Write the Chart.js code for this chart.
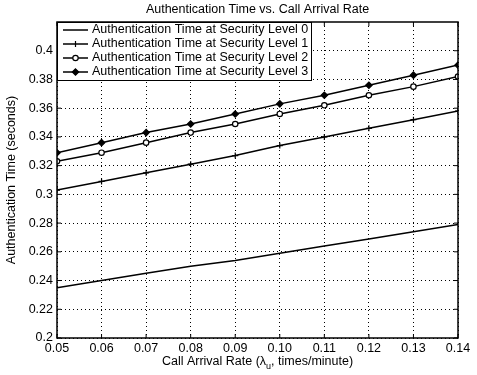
<!DOCTYPE html>
<html>
<head>
<meta charset="utf-8">
<script src="https://cdn.jsdelivr.net/npm/chart.js@4/dist/chart.umd.min.js"></script>
<style>
  html, body { margin: 0; padding: 0; background: #fff; }
  #wrap { width: 477px; height: 375px; position: relative; }
</style>
</head>
<body>
<div id="wrap"><canvas id="chart" width="477" height="375"></canvas></div>
<script>
// ---- data ----
const arrivalRates = [0.05, 0.06, 0.07, 0.08, 0.09, 0.10, 0.11, 0.12, 0.13, 0.14];
const level0 = [0.235, 0.240, 0.245, 0.250, 0.254, 0.259, 0.264, 0.269, 0.274, 0.279];
const level1 = [0.303, 0.309, 0.315, 0.321, 0.327, 0.334, 0.340, 0.346, 0.352, 0.358];
const level2 = [0.323, 0.329, 0.336, 0.343, 0.349, 0.356, 0.362, 0.369, 0.375, 0.382];
const level3 = [0.329, 0.336, 0.343, 0.349, 0.356, 0.363, 0.369, 0.376, 0.383, 0.390];
const seriesLabels = [
    'Authentication Time at Security Level 0',
    'Authentication Time at Security Level 1',
    'Authentication Time at Security Level 2',
    'Authentication Time at Security Level 3'
];
const yTicks = [0.2, 0.22, 0.24, 0.26, 0.28, 0.3, 0.32, 0.34, 0.36, 0.38, 0.4];

const FONT = '"Liberation Sans", Arial, Helvetica, sans-serif';
const FS = 12.5;

const toPoints = arr => arr.map((v, i) => ({ x: arrivalRates[i], y: v }));

// marker styles per series (MATLAB-like: none, +, o, diamond)
const markers = [
    { style: false, radius: 0, fill: '#000' },
    { style: 'cross', radius: 3, fill: '#000' },
    { style: 'circle', radius: 2.7, fill: '#fff' },
    { style: 'rectRot', radius: 3.2, fill: '#000' }
];

const datasets = [level0, level1, level2, level3].map((vals, i) => ({
    label: seriesLabels[i],
    data: toPoints(vals),
    borderColor: '#000',
    borderWidth: 1.5,
    backgroundColor: markers[i].fill,
    pointStyle: markers[i].style,
    pointRadius: markers[i].radius,
    pointBorderColor: '#000',
    pointBorderWidth: 1.2,
    pointBackgroundColor: markers[i].fill,
    tension: 0
}));

// titles, inward tick marks, frame and in-plot legend
const decorations = {
    id: 'decorations',
    afterDatasetsDraw(chart) {
        const { ctx, chartArea: a, scales } = chart;
        ctx.save();

        // frame
        ctx.strokeStyle = '#000';
        ctx.lineWidth = 1.5;
        ctx.setLineDash([]);
        ctx.strokeRect(a.left, a.top, a.right - a.left, a.bottom - a.top);

        // inward ticks
        ctx.lineWidth = 1;
        const t = 4;
        arrivalRates.forEach(v => {
            const px = scales.x.getPixelForValue(v);
            ctx.beginPath();
            ctx.moveTo(px, a.bottom); ctx.lineTo(px, a.bottom - t);
            ctx.moveTo(px, a.top); ctx.lineTo(px, a.top + t);
            ctx.stroke();
        });
        yTicks.forEach(v => {
            const py = scales.y.getPixelForValue(v);
            ctx.beginPath();
            ctx.moveTo(a.left, py); ctx.lineTo(a.left + t, py);
            ctx.moveTo(a.right, py); ctx.lineTo(a.right - t, py);
            ctx.stroke();
        });

        // legend box
        const lx = a.left, ly = a.top, lw = 254, lh = 58;
        ctx.fillStyle = '#fff';
        ctx.fillRect(lx, ly, lw, lh);
        ctx.strokeStyle = '#000';
        ctx.lineWidth = 1;
        ctx.strokeRect(lx + 0.5, ly + 0.5, lw, lh);
        ctx.font = FS + 'px ' + FONT;
        ctx.textBaseline = 'middle';
        ctx.textAlign = 'left';
        seriesLabels.forEach((label, i) => {
            const y = ly + 8 + i * 14;
            const cx = lx + 18.5;
            ctx.strokeStyle = '#000';
            ctx.lineWidth = 1.5;
            ctx.beginPath();
            ctx.moveTo(lx + 6, y); ctx.lineTo(lx + 31, y);
            ctx.stroke();
            const m = markers[i];
            ctx.lineWidth = 1.2;
            ctx.fillStyle = m.fill;
            if (m.style === 'cross') {
                ctx.beginPath();
                ctx.moveTo(cx, y - m.radius); ctx.lineTo(cx, y + m.radius);
                ctx.stroke();
            } else if (m.style === 'circle') {
                ctx.beginPath();
                ctx.arc(cx, y, m.radius, 0, Math.PI * 2);
                ctx.fill(); ctx.stroke();
            } else if (m.style === 'rectRot') {
                ctx.beginPath();
                ctx.moveTo(cx, y - m.radius);
                ctx.lineTo(cx + m.radius, y);
                ctx.lineTo(cx, y + m.radius);
                ctx.lineTo(cx - m.radius, y);
                ctx.closePath();
                ctx.fill(); ctx.stroke();
            }
            ctx.fillStyle = '#000';
            ctx.fillText(label, lx + 35, y);
        });

        // chart title
        ctx.font = FS + 'px ' + FONT;
        ctx.textAlign = 'center';
        ctx.textBaseline = 'middle';
        ctx.fillText('Authentication Time vs. Call Arrival Rate', (a.left + a.right) / 2, 10);

        // x axis title with subscript
        const main1 = 'Call Arrival Rate (\u03bb';
        const sub = 'u';
        const main2 = ', times/minute)';
        ctx.textAlign = 'left';
        const w1 = ctx.measureText(main1).width;
        ctx.font = '9px ' + FONT;
        const ws = ctx.measureText(sub).width;
        ctx.font = FS + 'px ' + FONT;
        const w2 = ctx.measureText(main2).width;
        const x0 = (a.left + a.right) / 2 - (w1 + ws + w2) / 2;
        const yx = 362;
        ctx.fillText(main1, x0, yx);
        ctx.font = '9px ' + FONT;
        ctx.fillText(sub, x0 + w1, yx + 5);
        ctx.font = FS + 'px ' + FONT;
        ctx.fillText(main2, x0 + w1 + ws, yx);

        // y axis title
        ctx.save();
        ctx.translate(12, (a.top + a.bottom) / 2);
        ctx.rotate(-Math.PI / 2);
        ctx.textAlign = 'center';
        ctx.fillText('Authentication Time (seconds)', 0, 0);
        ctx.restore();

        ctx.restore();
    }
};

new Chart(document.getElementById('chart'), {
    type: 'line',
    data: { datasets },
    options: {
        responsive: false,
        animation: false,
        layout: { padding: { top: 22, right: 19, left: 0, bottom: 0 } },
        plugins: {
            legend: { display: false },
            title: { display: false },
            tooltip: { enabled: false }
        },
        scales: {
            x: {
                type: 'linear',
                min: 0.05,
                max: 0.14,
                afterBuildTicks: s => { s.ticks = arrivalRates.map(v => ({ value: v })); },
                afterFit: s => { s.height = 37; },
                ticks: {
                    color: '#000',
                    font: { family: FONT, size: FS },
                    padding: 3,
                    maxRotation: 0,
                    callback: v => v.toFixed(2)
                },
                grid: { color: '#000', lineWidth: 1, drawTicks: false },
                border: { display: false, dash: [1, 3] }
            },
            y: {
                min: 0.2,
                max: 0.42,
                afterBuildTicks: s => { s.ticks = yTicks.map(v => ({ value: v })); },
                afterFit: s => { s.width = 57; },
                ticks: {
                    color: '#000',
                    font: { family: FONT, size: FS },
                    padding: 4,
                    callback: v => String(parseFloat(v.toFixed(2)))
                },
                grid: { color: '#000', lineWidth: 1, drawTicks: false },
                border: { display: false, dash: [1, 3] }
            }
        }
    },
    plugins: [decorations]
});
</script>
</body>
</html>
